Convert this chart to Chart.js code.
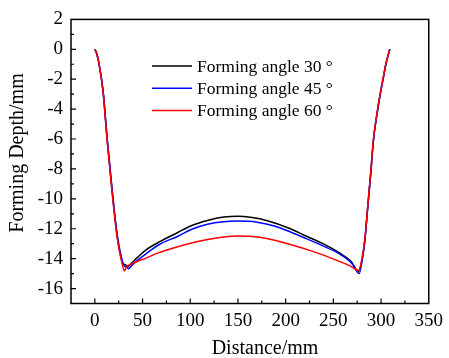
<!DOCTYPE html>
<html>
<head>
<meta charset="utf-8">
<script src="https://cdn.jsdelivr.net/npm/chart.js@4.4.0/dist/chart.umd.min.js"></script>
<style>
  html, body { margin: 0; padding: 0; background: #fff; }
  #wrap { width: 449px; height: 358px; position: relative; }
</style>
</head>
<body>
<div id="wrap"><canvas id="depthChart"></canvas></div>
<script>
// Forming depth profiles along the distance, one per forming angle
const seriesLabels = ['Forming angle 30 °', 'Forming angle 45 °', 'Forming angle 60 °'];
const seriesColors = ['#000000', '#0000ff', '#ff0000'];

const xs30 = [0, 2, 4.5, 8.6, 13, 18, 23.4, 28.6, 30.5, 32, 34, 36, 45, 53, 67, 87, 101, 118, 135, 150,
  165, 180, 205, 220, 239, 256, 268, 276.5, 280, 283, 286, 289.2, 292, 296.8, 300, 303, 305, 307, 309.2];
const depth30 = [0, -0.3, -1.0, -2.8, -6.1, -9.4, -12.5, -14.2, -14.4, -14.4, -14.55, -14.45, -13.9, -13.45, -12.9, -12.25, -11.8, -11.45, -11.22, -11.16,
  -11.25, -11.45, -12.0, -12.45, -13.0, -13.6, -14.15, -14.85, -14.1, -12.8, -10.6, -8.3, -6.1, -3.9, -2.7, -1.7, -1.0, -0.5, 0];

const xs45 = [0, 2, 4.5, 8.6, 13, 18, 23.4, 28.6, 31, 33, 35.5, 38, 45, 53, 67, 87, 101, 118, 135, 150,
  170, 190, 205, 220, 239, 256, 270, 277, 280, 283, 286, 289.2, 292, 296.8, 300, 303, 305, 307, 309.2];
const depth45 = [0, -0.3, -1.0, -2.75, -6.0, -9.3, -12.4, -14.1, -14.5, -14.55, -14.67, -14.5, -14.1, -13.71, -13.07, -12.5, -12.05, -11.7, -11.53, -11.49,
  -11.56, -11.85, -12.22, -12.62, -13.15, -13.67, -14.35, -15.0, -14.2, -12.8, -10.6, -8.3, -6.1, -3.9, -2.7, -1.7, -1.0, -0.5, 0];

const xs60 = [0, 2, 4.5, 8.6, 13, 18, 23.4, 28.6, 31.1, 33, 35.5, 44, 53, 67, 87, 101, 118, 135, 150, 165,
  180, 205, 230, 253, 268, 276.5, 280, 283, 286, 289.2, 292, 296.8, 300, 303, 305, 307, 309.2];
const depth60 = [0, -0.3, -1.0, -2.85, -6.2, -9.5, -12.6, -14.35, -14.83, -14.55, -14.45, -14.2, -13.98, -13.6, -13.2, -12.95, -12.72, -12.55, -12.49, -12.52,
  -12.65, -13.05, -13.55, -14.1, -14.5, -14.8, -14.0, -12.7, -10.5, -8.2, -6.0, -3.85, -2.65, -1.65, -1.0, -0.5, 0];

const xMin = -25, xMax = 350, xStep = 25, xLabelStep = 50;
const yMin = -17, yMax = 2, yStep = 1, yLabelStep = 2;

const xTitle = 'Distance/mm';
const yTitle = 'Forming Depth/mm';

const SERIF = '"Liberation Serif", "Times New Roman", serif';

function toPoints(xs, ys) {
  return xs.map((x, i) => ({ x: x, y: ys[i] }));
}

// box, inward ticks, axis titles and the in-plot legend
const framePlugin = {
  id: 'frame',
  afterDraw(chart) {
    const ctx = chart.ctx;
    const a = chart.chartArea;
    const xs = chart.scales.x, ys = chart.scales.y;
    ctx.save();
    ctx.strokeStyle = '#000';
    ctx.lineWidth = 1.5;
    ctx.strokeRect(a.left, a.top, a.right - a.left, a.bottom - a.top);

    ctx.lineWidth = 1.2;
    ctx.beginPath();
    xs.ticks.forEach(t => {
      const px = xs.getPixelForValue(t.value);
      if (px <= a.left + 1 || px >= a.right - 1) return;
      const len = t.value % xLabelStep === 0 ? 5 : 3;
      ctx.moveTo(px, a.bottom);
      ctx.lineTo(px, a.bottom - len);
    });
    ys.ticks.forEach(t => {
      const py = ys.getPixelForValue(t.value);
      if (py <= a.top + 1 || py >= a.bottom - 1) return;
      const len = t.value % yLabelStep === 0 ? 5 : 3;
      ctx.moveTo(a.left, py);
      ctx.lineTo(a.left + len, py);
    });
    ctx.stroke();

    // axis titles
    ctx.fillStyle = '#000';
    ctx.font = '20px ' + SERIF;
    ctx.textAlign = 'center';
    ctx.textBaseline = 'middle';
    ctx.fillText(xTitle, 265, 349);
    ctx.translate(18, 153);
    ctx.rotate(-Math.PI / 2);
    ctx.fillText(yTitle, 0, 0);
    ctx.restore();

    // legend
    ctx.save();
    ctx.font = '17.5px ' + SERIF;
    ctx.textAlign = 'left';
    ctx.textBaseline = 'middle';
    ctx.lineWidth = 1.5;
    seriesLabels.forEach((lab, i) => {
      const y = 66 + i * 22.2;
      ctx.strokeStyle = seriesColors[i];
      ctx.beginPath();
      ctx.moveTo(152, y);
      ctx.lineTo(192, y);
      ctx.stroke();
      ctx.fillStyle = '#000';
      ctx.fillText(lab, 197, y + 1);
    });
    ctx.restore();
  }
};

const datasets = [
  { data: toPoints(xs30, depth30), order: 3 },
  { data: toPoints(xs45, depth45), order: 2 },
  { data: toPoints(xs60, depth60), order: 1 }
].map((d, i) => Object.assign(d, {
  label: seriesLabels[i],
  borderColor: seriesColors[i],
  backgroundColor: seriesColors[i],
  borderWidth: 1.5,
  pointRadius: 0,
  fill: false,
  cubicInterpolationMode: 'monotone'
}));

new Chart(document.getElementById('depthChart'), {
  type: 'line',
  data: { datasets: datasets },
  options: {
    responsive: true,
    maintainAspectRatio: false,
    animation: false,
    events: [],
    layout: { padding: { left: 0, right: 15, top: 18, bottom: 0 } },
    plugins: {
      legend: { display: false },
      tooltip: { enabled: false }
    },
    scales: {
      x: {
        type: 'linear',
        min: xMin,
        max: xMax,
        afterFit: s => { s.height = 54.5; },
        grid: { display: false, drawTicks: false },
        border: { display: false },
        ticks: {
          stepSize: xStep,
          autoSkip: false,
          maxRotation: 0,
          padding: 6,
          color: '#000',
          font: { family: SERIF, size: 19 },
          callback: v => (v >= 0 && v % xLabelStep === 0) ? String(v) : ''
        }
      },
      y: {
        min: yMin,
        max: yMax,
        afterFit: s => { s.width = 71; },
        grid: { display: false, drawTicks: false },
        border: { display: false },
        ticks: {
          stepSize: yStep,
          autoSkip: false,
          padding: 8,
          color: '#000',
          font: { family: SERIF, size: 19 },
          callback: v => v % yLabelStep === 0 ? String(v) : ''
        }
      }
    }
  },
  plugins: [framePlugin]
});
</script>
</body>
</html>
